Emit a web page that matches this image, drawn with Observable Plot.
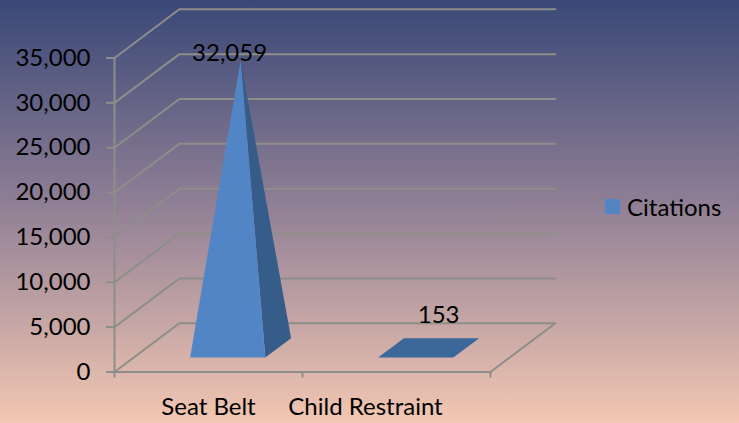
<!DOCTYPE html>
<html>
<head>
<meta charset="utf-8">
<script src="https://cdn.jsdelivr.net/npm/d3@7"></script>
<script src="https://cdn.jsdelivr.net/npm/@observablehq/plot@0.6"></script>
<style>
html,body{margin:0;padding:0;width:739px;height:423px;overflow:hidden;}
body{position:relative;background:linear-gradient(180deg,#3a4877 0%,#8f7f95 48%,#f3c7b2 100%);font-family:Lato,"Open Sans",sans-serif;}
svg{background:transparent !important;display:block;}
#legend{position:absolute;left:605px;top:194px;display:flex;align-items:center;font-size:24px;color:#000;line-height:25px;}
#legend i{display:block;width:15px;height:15px;background:#5285c4;margin-right:7px;}
</style>
</head>
<body>
<div id="chart"></div>
<div id="legend"><i></i><span>Citations</span></div>
<script>
const categories = ["Seat Belt", "Child Restraint"];
const citations = [32059, 153];
const yTicks = [0, 5000, 10000, 15000, 20000, 25000, 30000, 35000];
const xTicks = [0, 1, 2];
const seriesName = "Citations";

// oblique projection of the 3D box: depth 0 = front, 1 = back
const depthX = 0.345, depthY = 5430;
const nearD = 0.296, farD = 0.694, halfW = 0.2;
const project = (c, v, d) => ({x: c + d * depthX, y: v + d * depthY});

const grid = [];
yTicks.forEach(v => {
  if (v > 0) {
    [project(0, v, 0), project(0, v, 1), project(2, v, 1)].forEach(p => grid.push({...p, k: "g" + v}));
  }
});
[project(0, 0, 0), project(0, 0, 1), project(2, 0, 1), project(2, 0, 0)].forEach(p => grid.push({...p, k: "floor"}));

const front = [project(0, 0, 0), project(2, 0, 0)];

const faces = [];
categories.forEach((cat, i) => {
  const c = i + 0.5, v = citations[i], midD = (nearD + farD) / 2;
  const apex = project(c, v, midD);
  const fl = project(c - halfW, 0, nearD), fr = project(c + halfW, 0, nearD);
  const br = project(c + halfW, 0, farD), bl = project(c - halfW, 0, farD);
  const flat = v < 1000;
  const add = (name, pts, col) => pts.forEach(p => faces.push({...p, k: cat + name, col}));
  if (flat) add("base", [fl, fr, br, bl], "#3c6799");
  else {
    add("right", [fr, br, apex], "#365c8a");
    add("front", [fl, fr, apex], "#5285c6");
  }
});

const row = categories.map((c, i) => ({cat: c, c: i + 0.5, v: citations[i], ...project(i + 0.5, citations[i], (nearD + farD) / 2)}));
const fmt = d3.format(",");
const lineColor = "#8d8d89";

const plot = Plot.plot({
  width: 739, height: 423,
  marginLeft: 114, marginRight: 249, marginTop: 57.5, marginBottom: 51.5,
  style: {background: "transparent", fontFamily: "Lato, 'Open Sans', sans-serif"},
  x: {domain: [0, 2], axis: null},
  y: {domain: [0, 35000], axis: null},
  marks: [
    Plot.line(grid, {x: "x", y: "y", z: "k", stroke: lineColor, strokeWidth: 2, curve: "linear"}),
    Plot.line(front, {x: "x", y: "y", stroke: lineColor, strokeWidth: 2.2}),
    Plot.ruleX([0], {y1: 0, y2: 35000, stroke: lineColor, strokeWidth: 2}),
    Plot.axisY({ticks: yTicks, tickFormat: fmt, tickSize: 8, tickPadding: 16, stroke: lineColor, strokeWidth: 2, fill: "#000", fontSize: 24, label: null, anchor: "left"}),
    Plot.axisX({ticks: xTicks, tickFormat: () => "", tickSize: 6, stroke: lineColor, strokeWidth: 2, label: null, anchor: "bottom"}),
    Plot.line(faces, {x: "x", y: "y", z: "k", fill: "col", stroke: "none", curve: "linear"}),
    Plot.text(row.slice(0, 1), {x: "x", y: "y", text: d => fmt(d.v), dx: -11, dy: -7, fontSize: 24, fill: "#000"}),
    Plot.text(row.slice(1), {x: "x", y: "y", text: d => fmt(d.v), dx: 10, dy: -31, fontSize: 24, fill: "#000"}),
    Plot.text(row.slice(0, 1), {x: "c", y: 0, text: "cat", dy: 35, fontSize: 24, fill: "#000"}),
    Plot.text(row.slice(1), {x: "c", y: 0, text: "cat", dx: -31, dy: 35, fontSize: 24, fill: "#000"})
  ]
});
document.getElementById("chart").appendChild(plot);
</script>
</body>
</html>
